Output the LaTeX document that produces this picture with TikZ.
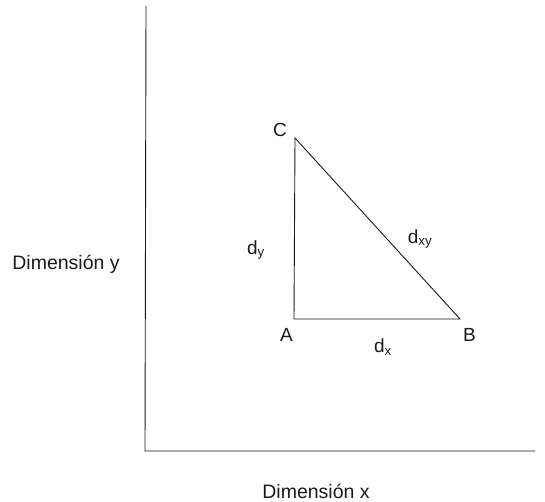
\documentclass[tikz,border=0pt]{standalone}
\usepackage{fontspec}
\setmainfont{Liberation Sans}
\usepackage{tikz}
\usetikzlibrary{positioning}
\definecolor{ink}{HTML}{1a1a1a}
\tikzset{axis/.style={draw=ink, line width=0.9pt},
         side/.style={draw=ink, line width=0.9pt, line join=miter},
         vlbl/.style={font=\fontsize{19}{22}\selectfont, text=ink, inner sep=0pt},
         dlbl/.style={font=\fontsize{19}{22}\selectfont, text=ink, inner sep=0pt},
         albl/.style={font=\fontsize{19.5}{22}\selectfont, text=ink, inner sep=0pt}}

\begin{document}
\begin{tikzpicture}[x=1pt, y=1pt]
\useasboundingbox (0,0) rectangle (545,501);
\coordinate (o) at (145,50);
\coordinate (ytop) at (146,495);
\coordinate (xend) at (535,50);
\coordinate (A) at (294,182);
\coordinate (B) at (460,182);
\coordinate (C) at (295,363);
\draw[axis] (ytop) -- (o) -- (xend);
\draw[side] (C) -- (A) -- (B) -- cycle;
\node[vlbl, above left=1pt and 8pt of C] (lc) {C};
\node[vlbl, below left=9pt and 1pt of A] (la) {A};
\node[vlbl, below right=9pt and 3pt of B] (lb) {B};
\node[dlbl] (dy) at (256,251) {d\textsubscript{y}};
\node[dlbl] (dxy) at (420,262) {d\textsubscript{xy}};
\node[dlbl] (dx) at (383,154) {d\textsubscript{x}};
\node[albl] (ay) at (66,237) {Dimensión y};
\node[albl] (ax) at (316,10) {Dimensión x};
\end{tikzpicture}
\end{document}
